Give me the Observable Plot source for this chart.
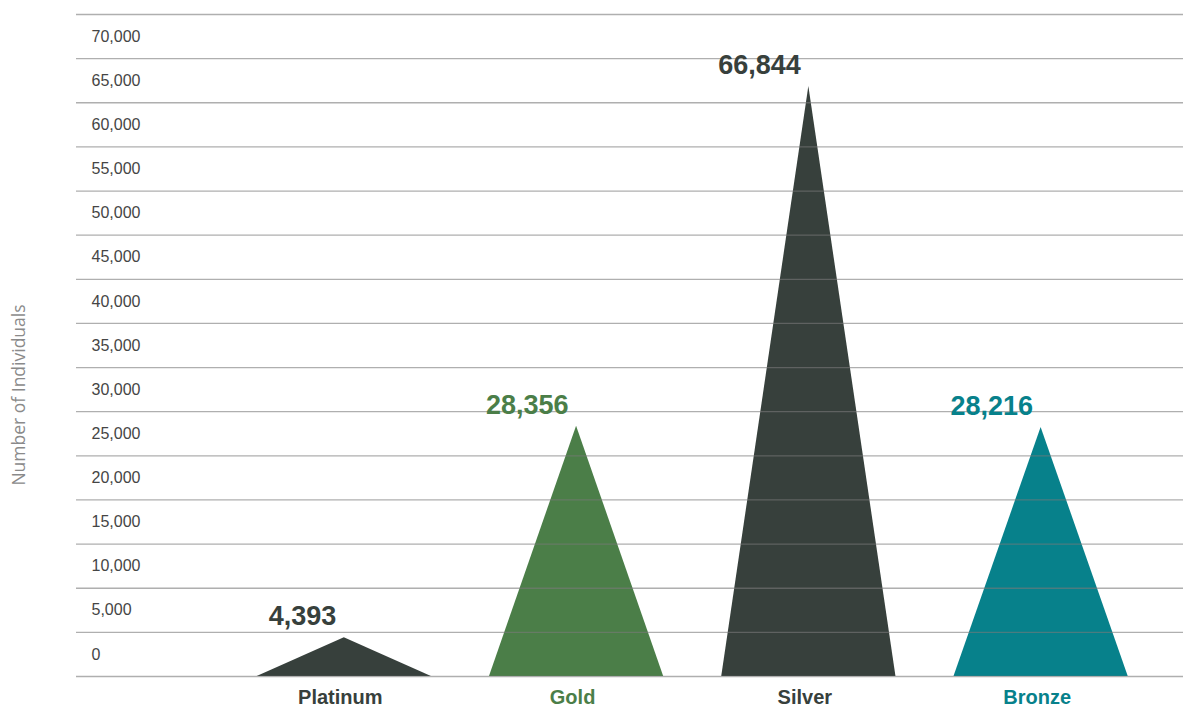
<!DOCTYPE html>
<html>
<head>
<meta charset="utf-8">
<script src="https://cdn.jsdelivr.net/npm/d3@7"></script>
<script src="https://cdn.jsdelivr.net/npm/@observablehq/plot@0.6"></script>
<style>
  html, body { margin: 0; padding: 0; background: #ffffff; }
  #chart svg { display: block; }
</style>
</head>
<body>
<div id="chart"></div>
<script>
// ---- data ----
const categories = ["Platinum", "Gold", "Silver", "Bronze"];
const values = [4393, 28356, 66844, 28216];
const yTicks = [0, 5000, 10000, 15000, 20000, 25000, 30000, 35000, 40000, 45000, 50000, 55000, 60000, 65000, 70000];
const gridValues = [0, 5000, 10000, 15000, 20000, 25000, 30000, 35000, 40000, 45000, 50000, 55000, 60000, 65000, 70000, 75000];
const yTitle = "Number of Individuals";

// ---- styles ----
const fillColors = ["#37403c", "#4b7e48", "#37403c", "#07818b"];
const font = "'Liberation Sans', Arial, Helvetica, sans-serif";
const halfWidth = 0.375; // half of triangle base, in category units

const rows = categories.map((c, i) => ({category: c, index: i, value: values[i]}));
const triangles = rows.flatMap(r => [
  {category: r.category, x: r.index - halfWidth, y: 0},
  {category: r.category, x: r.index, y: r.value},
  {category: r.category, x: r.index + halfWidth, y: 0}
]);
const fmt = d3.format(",");

const chart = Plot.plot({
  width: 1183,
  height: 709,
  marginLeft: 76,
  marginRight: 0,
  marginTop: 14,
  marginBottom: 33,
  style: {background: "#ffffff", fontFamily: font, overflow: "visible"},
  x: {domain: [-1.153, 3.613], axis: null},
  y: {domain: [0, 75000], axis: null},
  color: {domain: categories, range: fillColors},
  marks: [
    Plot.areaY(triangles, {x: "x", y: "y", z: "category", fill: "category", curve: "linear"}),
    Plot.ruleY(gridValues, {stroke: "#7a7a7a", strokeOpacity: 0.6, strokeWidth: 1.3}),
    Plot.text(yTicks, {
      y: d => d, frameAnchor: "left", textAnchor: "start", lineAnchor: "middle", dx: 15, dy: -22,
      text: d => fmt(d), fontSize: 16, fill: "#454545"
    }),
    Plot.text(rows, {
      x: "index", y: "value", text: d => fmt(d.value), fill: "category",
      textAnchor: "end", lineAnchor: "middle", dx: -8, dy: -21, fontSize: 27, fontWeight: "bold"
    }),
    Plot.text(rows, {
      x: "index", text: "category", fill: "category", frameAnchor: "bottom",
      lineAnchor: "middle", dx: -4, dy: 21, fontSize: 20, fontWeight: "bold"
    })
  ]
});

// y-axis title, outside the frame
d3.select(chart).append("text")
  .attr("transform", "translate(18,395) rotate(-90)")
  .attr("text-anchor", "middle")
  .attr("dominant-baseline", "central")
  .attr("font-family", "'Open Sans', 'Liberation Sans', sans-serif")
  .attr("font-size", 17.5)
  .attr("fill", "#8a8a8a")
  .text(yTitle);

document.getElementById("chart").appendChild(chart);
</script>
</body>
</html>
